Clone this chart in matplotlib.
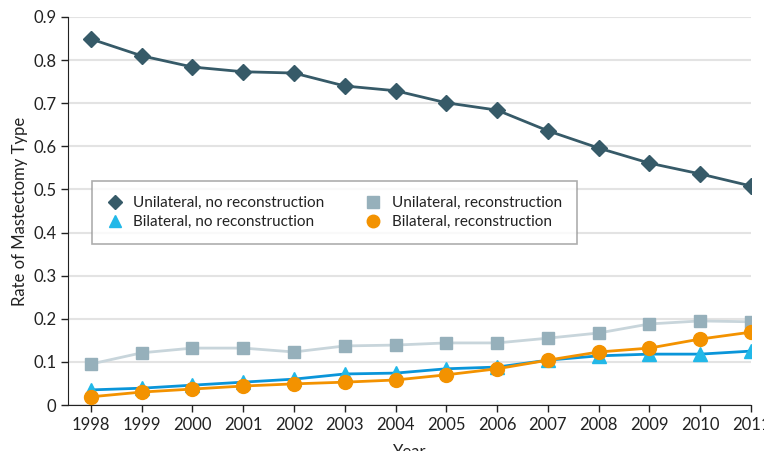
import matplotlib.pyplot as plt
from matplotlib.lines import Line2D

plt.rcParams['font.family'] = ['Lato', 'DejaVu Sans']

years = list(range(1998, 2012))
uni_no_recon = [0.849, 0.810, 0.784, 0.773, 0.770, 0.740, 0.729, 0.701, 0.684,
                0.636, 0.596, 0.561, 0.536, 0.508]
uni_recon = [0.095, 0.121, 0.132, 0.132, 0.123, 0.137, 0.139, 0.144, 0.144,
             0.155, 0.167, 0.188, 0.195, 0.193]
bi_no_recon = [0.035, 0.039, 0.046, 0.053, 0.060, 0.072, 0.074, 0.084, 0.088,
               0.104, 0.114, 0.118, 0.118, 0.125]
bi_recon = [0.019, 0.030, 0.037, 0.044, 0.049, 0.053, 0.058, 0.070, 0.084,
            0.104, 0.123, 0.132, 0.153, 0.169]
yticks = [0, 0.1, 0.2, 0.3, 0.4, 0.5, 0.6, 0.7, 0.8, 0.9]

c_dark = '#365a68'
c_grey = '#96b0bb'
c_cyan = '#22b8e8'
c_orange = '#f39200'

fig = plt.figure(figsize=(7.64, 4.51), dpi=100)
ax = fig.add_axes([68 / 764, 46 / 451, 683 / 764, 388 / 451])

ax.plot(years, uni_recon, color='#c8d5db', lw=2, zorder=2)
ax.plot(years, uni_recon, ls='none', marker='s', ms=9, color=c_grey, zorder=3)
ax.plot(years, bi_no_recon, color='#0a95d9', lw=2, zorder=2)
ax.plot(years, bi_no_recon, ls='none', marker='^', ms=10, color=c_cyan, zorder=3)
ax.plot(years, bi_recon, color=c_orange, lw=2, marker='o', ms=10, zorder=4)
ax.plot(years, uni_no_recon, color=c_dark, lw=2, marker='D', ms=8, zorder=4)

ax.set_xlim(1997.55, 2011)
ax.set_ylim(0, 0.9)
ax.set_xticks(years)
ax.set_yticks(yticks)
ax.set_yticklabels(['0'] + ['%.1f' % v for v in yticks[1:]])
ax.tick_params(labelsize=12, colors='#222222', length=5, width=1)
ax.yaxis.grid(True, color='#e3e3e3', lw=1.5)
ax.set_axisbelow(True)
for s in ['top', 'right']:
    ax.spines[s].set_visible(False)
for s in ['left', 'bottom']:
    ax.spines[s].set_color('#222222')
ax.set_ylabel('Rate of Mastectomy Type', fontsize=12, color='#222222')
ax.set_xlabel('Year', fontsize=12, color='#222222', labelpad=8)

handles = [
    Line2D([], [], ls='none', marker='D', ms=7, color=c_dark),
    Line2D([], [], ls='none', marker='^', ms=9, color=c_cyan),
    Line2D([], [], ls='none', marker='s', ms=8, color=c_grey),
    Line2D([], [], ls='none', marker='o', ms=9, color=c_orange),
]
labels = ['Unilateral, no reconstruction', 'Bilateral, no reconstruction',
          'Unilateral, reconstruction', 'Bilateral, reconstruction']
leg = ax.legend(handles, labels, ncol=2, loc='upper left',
                bbox_to_anchor=(24 / 683, 224 / 388), borderaxespad=0,
                fontsize=11, frameon=True, fancybox=False, edgecolor='#999999',
                handlelength=1, columnspacing=2.7, labelspacing=0.3,
                borderpad=1.0, handletextpad=0.7)
leg.get_frame().set_linewidth(1.2)
for t in leg.get_texts():
    t.set_color('#222222')

fig.savefig('out.png', dpi=100)
